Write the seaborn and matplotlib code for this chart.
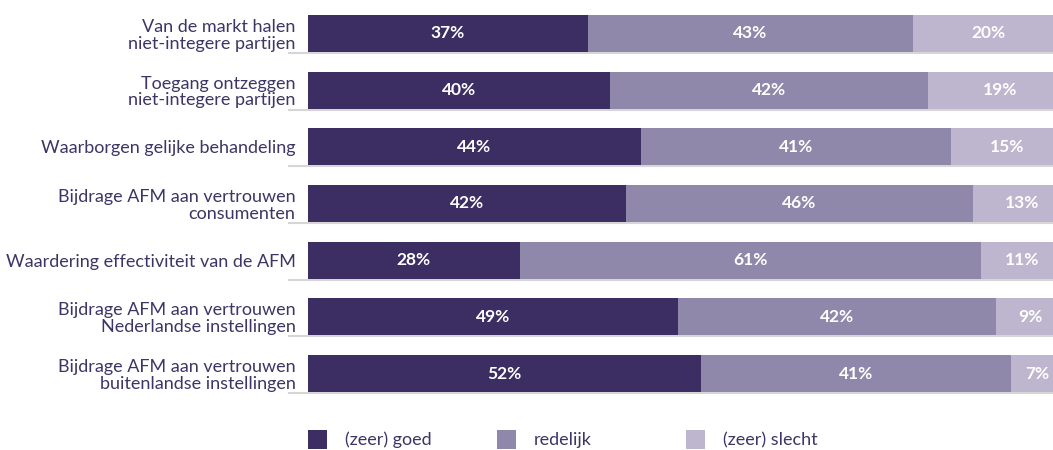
import matplotlib
matplotlib.use("Agg")
import matplotlib.pyplot as plt
import seaborn as sns
import pandas as pd
import numpy as np
from matplotlib.patches import Rectangle
import matplotlib.transforms as mtransforms

categories = [
    "Van de markt halen\nniet-integere partijen",
    "Toegang ontzeggen\nniet-integere partijen",
    "Waarborgen gelijke behandeling",
    "Bijdrage AFM aan vertrouwen\nconsumenten",
    "Waardering effectiviteit van de AFM",
    "Bijdrage AFM aan vertrouwen\nNederlandse instellingen",
    "Bijdrage AFM aan vertrouwen\nbuitenlandse instellingen",
]
goed = [37, 40, 44, 42, 28, 49, 52]
redelijk = [43, 42, 41, 46, 61, 42, 41]
slecht = [20, 19, 15, 13, 11, 9, 7]
series_names = ["(zeer) goed", "redelijk", "(zeer) slecht"]
colors = ["#3c2d62", "#8f88aa", "#bdb6ce"]
text_color = "#3d3566"

sns.set_theme(style="white")
plt.rcParams["font.family"] = ["Lato", "DejaVu Sans"]

fig = plt.figure(figsize=(10.53, 4.5), dpi=100)
# the 100% axis runs slightly past the right edge of the picture
ax = fig.add_axes([308 / 1053, 1 - 392 / 450, 756 / 1053, (392 - 15) / 450])

series = [goed, redelijk, slecht]
cum = np.cumsum(np.array(series, dtype=float), axis=0)

trans = mtransforms.blended_transform_factory(ax.transAxes, ax.transData)
for i in range(len(categories)):
    ax.plot([-20 / 756, 1.0], [i + 0.345, i + 0.345], transform=trans,
            color="#d6d6d6", lw=1.5, clip_on=False, zorder=0, solid_capstyle="butt")

for k in range(len(series) - 1, -1, -1):
    d = pd.DataFrame({"cat": categories, "val": cum[k]})
    sns.barplot(data=d, x="val", y="cat", orient="h", color=colors[k],
                width=0.65, ax=ax, saturation=1, zorder=2, linewidth=0)

for k in range(len(series)):
    start = cum[k] - np.array(series[k])
    end = cum[k]
    for i, v in enumerate(series[k]):
        ax.text((start[i] + end[i]) / 2, i, f"{v}%", ha="center", va="center",
                color="white", fontsize=12.5, fontweight="bold", zorder=3)

ax.set_xlim(0, 100)
ax.set_ylim(6.325, -0.325)
ax.set_xlabel("")
ax.set_ylabel("")
ax.set_xticks([])
ax.tick_params(axis="y", length=0, pad=9, labelsize=13, labelcolor=text_color)
for lbl in ax.get_yticklabels():
    lbl.set_multialignment("right")
    lbl.set_linespacing(1.05)
sns.despine(ax=ax, left=True, bottom=True)

for j, name in enumerate(series_names):
    x0 = (308 + 189 * j) / 1053
    fig.add_artist(Rectangle((x0, 1 - 449 / 450), 19 / 1053, 19 / 450,
                             transform=fig.transFigure, color=colors[j], lw=0))
    fig.text(x0 + 37 / 1053, 1 - 440 / 450, name, ha="left", va="center",
             fontsize=13, color=text_color)

fig.savefig("out.png", dpi=100)
